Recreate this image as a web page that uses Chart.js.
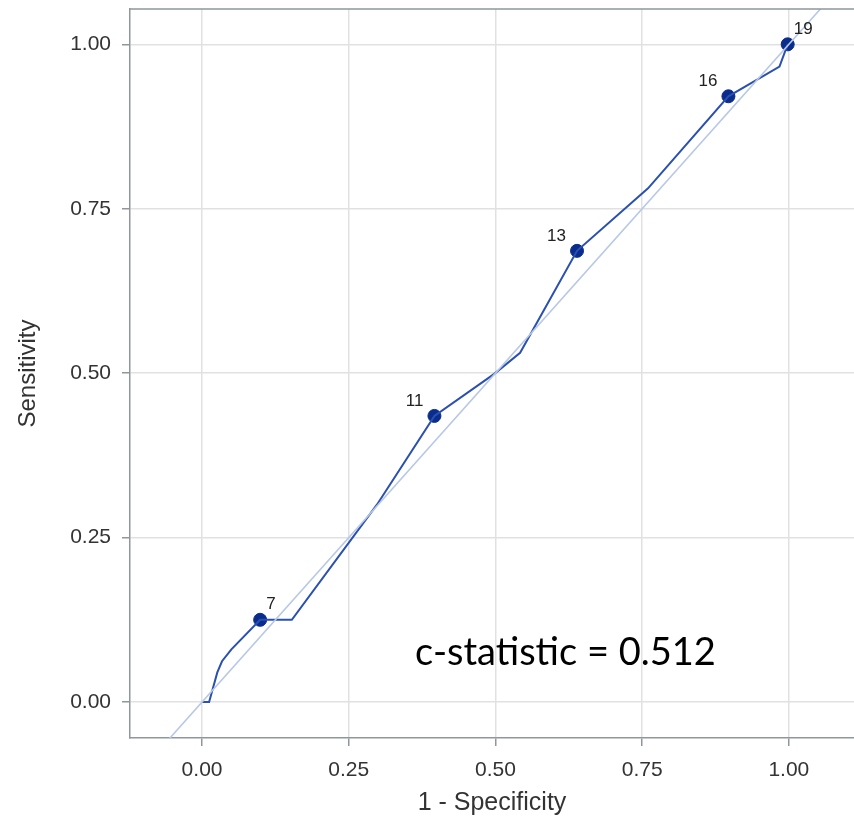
<!DOCTYPE html>
<html>
<head>
<meta charset="utf-8">
<script src="https://cdn.jsdelivr.net/npm/chart.js@4.4.0/dist/chart.umd.min.js"></script>
<style>
  html, body { margin: 0; padding: 0; background: #fff; overflow: hidden; }
  #wrap { width: 854px; height: 825px; position: relative; }
  #roc { display: block; }
</style>
</head>
<body>
<div id="wrap"><canvas id="roc"></canvas></div>
<script>
/* ---------- data ---------- */

// ROC curve: 1 - specificity / sensitivity
const rocX = [0, 0.012, 0.026, 0.034, 0.05, 0.099, 0.153, 0.298, 0.396, 0.498, 0.542, 0.639, 0.760, 0.897, 0.984, 0.998];
const rocY = [0, 0, 0.045, 0.062, 0.080, 0.125, 0.125, 0.300, 0.435, 0.499, 0.531, 0.686, 0.781, 0.921, 0.966, 1.000];

// labelled cut-points
const cutLabels = ['7', '11', '13', '16', '19'];
const cutX = [0.099, 0.396, 0.639, 0.897, 0.998];
const cutY = [0.125, 0.435, 0.686, 0.921, 1.000];
const cutSide = ['right', 'left', 'left', 'left', 'right'];

// chance diagonal
const diagX = [-0.2, 1.2];
const diagY = [-0.2, 1.2];

const tickValues = [0, 0.25, 0.5, 0.75, 1];
const cStatistic = 0.512;

/* ---------- styling ---------- */

const INK = '#333333';
const GRID = '#e1e1e1';
const AXIS = '#8e979c';
const LINE = '#2a50b0';
const MARK = '#0a2c8c';
const DIAG = '#b8c8e6';
const SANS = '"Liberation Sans", Arial, sans-serif';

const toPts = (xs, ys) => xs.map((x, i) => ({ x, y: ys[i] }));

/* ---------- small plugins ---------- */

// top frame line (the plot box is closed on top)
const frameTop = {
  id: 'frameTop',
  afterDraw(chart) {
    const { ctx, chartArea } = chart;
    ctx.save();
    ctx.strokeStyle = AXIS;
    ctx.lineWidth = 1.5;
    ctx.beginPath();
    ctx.moveTo(chartArea.left, chartArea.top);
    ctx.lineTo(chartArea.right, chartArea.top);
    ctx.stroke();
    ctx.restore();
  },
};

// numbers beside the cut-point markers
const cutPointLabels = {
  id: 'cutPointLabels',
  afterDatasetsDraw(chart) {
    const { ctx } = chart;
    const meta = chart.getDatasetMeta(2);
    ctx.save();
    ctx.font = '17px ' + SANS;
    ctx.fillStyle = '#222';
    ctx.textBaseline = 'middle';
    meta.data.forEach((pt, i) => {
      const right = cutSide[i] === 'right';
      ctx.textAlign = right ? 'left' : 'right';
      ctx.fillText(cutLabels[i], pt.x + (right ? 6 : -11), pt.y - 15);
    });
    ctx.restore();
  },
};

// c-statistic annotation, anchored in data space
const cStatNote = {
  id: 'cStatNote',
  afterDraw(chart) {
    const { ctx, scales } = chart;
    ctx.save();
    ctx.font = '38px Lato, "Open Sans", sans-serif';
    ctx.fillStyle = '#000';
    ctx.textAlign = 'left';
    ctx.textBaseline = 'alphabetic';
    ctx.fillText('c-statistic = ' + cStatistic.toFixed(3), scales.x.getPixelForValue(0.363), scales.y.getPixelForValue(0.056));
    ctx.restore();
  },
};

/* ---------- chart ---------- */

function axis(title, min, max, isY) {
  return {
    type: 'linear',
    min,
    max,
    afterBuildTicks: (s) => { s.ticks = tickValues.map((v) => ({ value: v })); },
    afterFit: (s) => {
      // fixed axis boxes, and no extra edge padding for end labels
      if (isY) s.width = 130; else s.height = 87;
      s.paddingTop = 0;
      s.paddingBottom = 0;
      s.paddingLeft = 0;
      s.paddingRight = 0;
    },
    grid: { color: GRID, lineWidth: 1.5, tickColor: AXIS, tickLength: 8, tickWidth: 1.5 },
    border: { color: AXIS, width: 1.5 },
    ticks: {
      color: INK,
      padding: isY ? 11 : 12,
      font: { family: SANS, size: 21 },
      callback: (v) => Number(v).toFixed(2),
    },
    title: {
      display: true,
      text: title,
      color: INK,
      font: { family: SANS, size: isY ? 24 : 25 },
      padding: isY ? { top: 14, bottom: 0 } : { top: 0, bottom: 7 },
    },
  };
}

new Chart(document.getElementById('roc'), {
  type: 'scatter',
  data: {
    datasets: [
      {
        label: 'Chance',
        data: toPts(diagX, diagY),
        showLine: true,
        borderColor: DIAG,
        borderWidth: 1.6,
        pointRadius: 0,
      },
      {
        label: 'ROC',
        data: toPts(rocX, rocY),
        showLine: true,
        borderColor: LINE,
        borderWidth: 2,
        pointRadius: 0,
        tension: 0,
      },
      {
        label: 'Cut-points',
        data: toPts(cutX, cutY),
        showLine: false,
        pointRadius: 6.5,
        backgroundColor: MARK,
        borderColor: MARK,
      },
    ],
  },
  options: {
    responsive: true,
    maintainAspectRatio: false,
    animation: false,
    // the reference plot box runs off the right edge of the image
    layout: { autoPadding: false, padding: { top: 9, right: 0, left: 0, bottom: 0 } },
    plugins: {
      legend: { display: false },
      tooltip: { enabled: false },
    },
    scales: {
      x: axis('1 - Specificity', -0.1228, 1.111, false),
      y: axis('Sensitivity', -0.0547, 1.0537, true),
    },
  },
  plugins: [frameTop, cutPointLabels, cStatNote],
});
</script>
</body>
</html>
